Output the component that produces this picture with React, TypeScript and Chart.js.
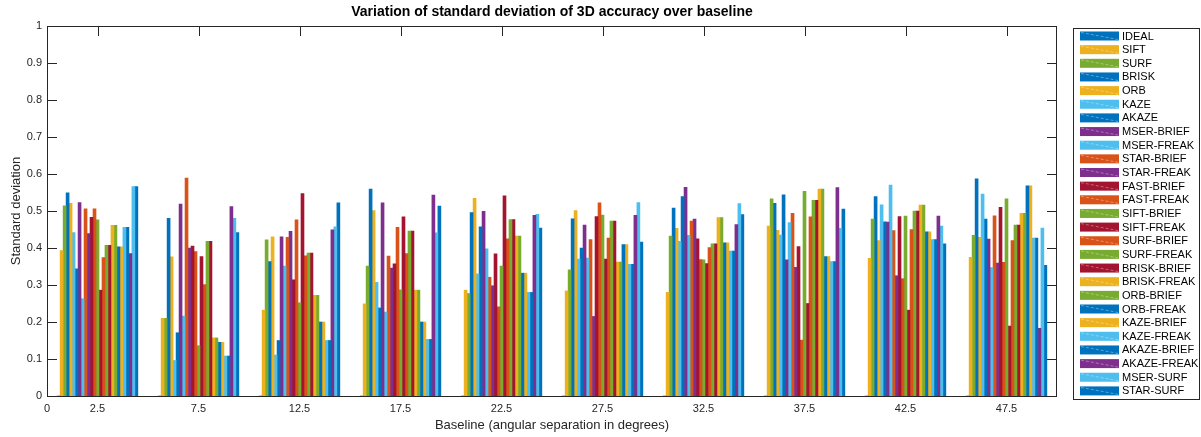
import { useEffect, useRef } from "react";
import { Chart, registerables } from "chart.js";

Chart.register(...registerables);

// Group positions on the baseline axis (degrees) and axis tick positions
const BASELINES = [2.5, 7.5, 12.5, 17.5, 22.5, 27.5, 32.5, 37.5, 42.5, 47.5];
const X_TICKS = [0, 2.5, 7.5, 12.5, 17.5, 22.5, 27.5, 32.5, 37.5, 42.5, 47.5];
const Y_TICKS = [0, 0.1, 0.2, 0.3, 0.4, 0.5, 0.6, 0.7, 0.8, 0.9, 1];

// Standard deviation per method, one value per baseline group
const IDEAL = [0, 0, 0, 0, 0, 0, 0, 0, 0, 0];
const SIFT = [0.393, 0.21, 0.232, 0.249, 0.286, 0.284, 0.28, 0.459, 0.372, 0.375];
const SURF = [0.514, 0.21, 0.422, 0.351, 0.277, 0.341, 0.432, 0.533, 0.478, 0.434];
const BRISK = [0.549, 0.48, 0.363, 0.559, 0.496, 0.479, 0.508, 0.521, 0.539, 0.587];
const ORB = [0.521, 0.376, 0.43, 0.501, 0.534, 0.501, 0.453, 0.448, 0.42, 0.429];
const KAZE = [0.442, 0.096, 0.111, 0.307, 0.33, 0.37, 0.418, 0.435, 0.517, 0.546];
const AKAZE = [0.344, 0.171, 0.15, 0.238, 0.457, 0.4, 0.539, 0.544, 0.471, 0.478];
const MSER_BRIEF = [0.523, 0.519, 0.43, 0.522, 0.499, 0.462, 0.564, 0.368, 0.47, 0.424];
const MSER_FREAK = [0.263, 0.216, 0.351, 0.227, 0.398, 0.373, 0.434, 0.469, 0.57, 0.347];
const STAR_BRIEF = [0.506, 0.589, 0.429, 0.378, 0.321, 0.423, 0.473, 0.494, 0.447, 0.487];
const STAR_FREAK = [0.439, 0.4, 0.445, 0.346, 0.298, 0.215, 0.478, 0.348, 0.325, 0.359];
const FAST_BRIEF = [0.483, 0.405, 0.314, 0.357, 0.384, 0.485, 0.425, 0.404, 0.485, 0.51];
const FAST_FREAK = [0.506, 0.39, 0.476, 0.456, 0.241, 0.522, 0.369, 0.151, 0.317, 0.361];
const SIFT_BRIEF = [0.476, 0.136, 0.252, 0.287, 0.351, 0.489, 0.368, 0.553, 0.486, 0.533];
const SIFT_FREAK = [0.286, 0.377, 0.547, 0.484, 0.541, 0.37, 0.358, 0.25, 0.232, 0.189];
const SURF_BRIEF = [0.374, 0.301, 0.379, 0.385, 0.425, 0.427, 0.401, 0.484, 0.45, 0.42];
const SURF_FREAK = [0.407, 0.418, 0.386, 0.446, 0.477, 0.473, 0.411, 0.529, 0.5, 0.462];
const BRISK_BRIEF = [0.407, 0.418, 0.386, 0.446, 0.477, 0.473, 0.411, 0.529, 0.5, 0.462];
const BRISK_FREAK = [0.461, 0.157, 0.272, 0.286, 0.432, 0.362, 0.482, 0.559, 0.516, 0.494];
const ORB_BRIEF = [0.461, 0.157, 0.272, 0.286, 0.432, 0.362, 0.482, 0.559, 0.516, 0.494];
const ORB_FREAK = [0.403, 0.145, 0.2, 0.2, 0.332, 0.409, 0.414, 0.377, 0.444, 0.568];
const KAZE_BRIEF = [0.403, 0.145, 0.2, 0.2, 0.332, 0.409, 0.414, 0.377, 0.444, 0.568];
const KAZE_FREAK = [0.456, 0.108, 0.15, 0.153, 0.28, 0.356, 0.392, 0.363, 0.423, 0.427];
const AKAZE_BRIEF = [0.456, 0.108, 0.15, 0.153, 0.28, 0.356, 0.392, 0.363, 0.423, 0.427];
const AKAZE_FREAK = [0.385, 0.512, 0.449, 0.543, 0.488, 0.488, 0.463, 0.563, 0.486, 0.183];
const MSER_SURF = [0.566, 0.48, 0.457, 0.441, 0.491, 0.523, 0.52, 0.453, 0.459, 0.454];
const STAR_SURF = [0.566, 0.442, 0.522, 0.513, 0.454, 0.416, 0.49, 0.505, 0.411, 0.353];

// Palette
const BLUE = "#0072BD";
const ORANGE = "#D95319";
const YELLOW = "#EDB120";
const PURPLE = "#7E2F8E";
const GREEN = "#77AC30";
const LIGHT_BLUE = "#4DBEEE";
const DARK_RED = "#A2142F";

const SERIES: [string, number[], string][] = [
  ["IDEAL", IDEAL, BLUE],
  ["SIFT", SIFT, YELLOW],
  ["SURF", SURF, GREEN],
  ["BRISK", BRISK, BLUE],
  ["ORB", ORB, YELLOW],
  ["KAZE", KAZE, LIGHT_BLUE],
  ["AKAZE", AKAZE, BLUE],
  ["MSER-BRIEF", MSER_BRIEF, PURPLE],
  ["MSER-FREAK", MSER_FREAK, LIGHT_BLUE],
  ["STAR-BRIEF", STAR_BRIEF, ORANGE],
  ["STAR-FREAK", STAR_FREAK, PURPLE],
  ["FAST-BRIEF", FAST_BRIEF, DARK_RED],
  ["FAST-FREAK", FAST_FREAK, ORANGE],
  ["SIFT-BRIEF", SIFT_BRIEF, GREEN],
  ["SIFT-FREAK", SIFT_FREAK, DARK_RED],
  ["SURF-BRIEF", SURF_BRIEF, ORANGE],
  ["SURF-FREAK", SURF_FREAK, GREEN],
  ["BRISK-BRIEF", BRISK_BRIEF, DARK_RED],
  ["BRISK-FREAK", BRISK_FREAK, YELLOW],
  ["ORB-BRIEF", ORB_BRIEF, GREEN],
  ["ORB-FREAK", ORB_FREAK, BLUE],
  ["KAZE-BRIEF", KAZE_BRIEF, YELLOW],
  ["KAZE-FREAK", KAZE_FREAK, LIGHT_BLUE],
  ["AKAZE-BRIEF", AKAZE_BRIEF, BLUE],
  ["AKAZE-FREAK", AKAZE_FREAK, PURPLE],
  ["MSER-SURF", MSER_SURF, LIGHT_BLUE],
  ["STAR-SURF", STAR_SURF, BLUE],
];

const TITLE = "Variation of standard deviation of 3D accuracy over baseline";
const X_TITLE = "Baseline (angular separation in degrees)";
const Y_TITLE = "Standard deviation";

const FONT = "'Liberation Sans', Arial, Helvetica, sans-serif";
const AXIS_COLOR = "#262626";

// Box, inward tick marks, titles and the legend panel
const matlabFrame = {
  id: "matlabFrame",
  beforeDatasetsDraw(chart: any) {
    const { ctx, chartArea: a } = chart;
    const x = chart.scales.x;
    const y = chart.scales.y;
    const len = 10;
    ctx.save();
    ctx.strokeStyle = AXIS_COLOR;
    ctx.lineWidth = 1;
    ctx.beginPath();
    for (const v of X_TICKS) {
      const px = Math.round(x.getPixelForValue(v)) + 0.5;
      ctx.moveTo(px, a.bottom);
      ctx.lineTo(px, a.bottom - len);
      ctx.moveTo(px, a.top);
      ctx.lineTo(px, a.top + len);
    }
    for (const v of Y_TICKS) {
      const py = Math.round(y.getPixelForValue(v)) + 0.5;
      ctx.moveTo(a.left, py);
      ctx.lineTo(a.left + len, py);
      ctx.moveTo(a.right, py);
      ctx.lineTo(a.right - len, py);
    }
    ctx.stroke();
    ctx.restore();
  },
  afterDatasetsDraw(chart: any) {
    const { ctx, chartArea: a } = chart;
    ctx.save();
    ctx.strokeStyle = AXIS_COLOR;
    ctx.lineWidth = 1;
    ctx.strokeRect(
      Math.round(a.left) + 0.5,
      Math.round(a.top) + 0.5,
      Math.round(a.right - a.left) - 1,
      Math.round(a.bottom - a.top)
    );
    ctx.restore();
  },
  afterDraw(chart: any) {
    const { ctx, chartArea: a } = chart;
    const cx = (a.left + a.right) / 2;
    ctx.save();
    ctx.fillStyle = "#000";
    ctx.textAlign = "center";
    ctx.textBaseline = "middle";
    ctx.font = `bold 14px ${FONT}`;
    ctx.fillText(TITLE, cx, 12);

    ctx.fillStyle = AXIS_COLOR;
    ctx.font = `13px ${FONT}`;
    ctx.fillText(X_TITLE, cx, 425);

    ctx.save();
    ctx.translate(16, (a.top + a.bottom) / 2);
    ctx.rotate(-Math.PI / 2);
    ctx.fillText(Y_TITLE, 0, 0);
    ctx.restore();

    // legend panel
    const lx = 1073;
    const ly = 28;
    const lw = 126;
    const lh = 371;
    ctx.fillStyle = "#fff";
    ctx.fillRect(lx, ly, lw, lh);
    ctx.strokeStyle = "#262626";
    ctx.lineWidth = 1;
    ctx.strokeRect(lx + 0.5, ly + 0.5, lw, lh);

    const step = 13.65;
    ctx.textAlign = "left";
    ctx.font = `11px ${FONT}`;
    chart.data.datasets.forEach((ds: any, i: number) => {
      const yc = 36 + i * step;
      const sx = 1080;
      const sw = 39;
      const sh = 9;
      ctx.fillStyle = ds.backgroundColor;
      ctx.fillRect(sx, yc - sh / 2, sw, sh);
      ctx.save();
      ctx.strokeStyle = "rgba(255,255,255,0.35)";
      ctx.setLineDash([3, 2]);
      ctx.beginPath();
      ctx.moveTo(sx + 1, yc - sh / 2 + 1);
      ctx.lineTo(sx + sw - 1, yc + sh / 2 - 1);
      ctx.stroke();
      ctx.restore();
      ctx.fillStyle = "#000";
      ctx.fillText(ds.label, 1122, yc + 0.5);
    });
    ctx.restore();
  },
};

export default function App() {
  const canvasRef = useRef<HTMLCanvasElement | null>(null);

  useEffect(() => {
    document.body.style.margin = "0";
    const canvas = canvasRef.current;
    if (!canvas) return;

    const datasets = SERIES.map(([label, values, color]) => ({
      label,
      data: BASELINES.map((b, i) => ({ x: b, y: values[i] })),
      backgroundColor: color,
      borderWidth: 0,
      barThickness: 2.99,
    }));

    const chart = new Chart(canvas, {
      type: "bar",
      data: { datasets },
      plugins: [matlabFrame],
      options: {
        animation: false,
        responsive: false,
        maintainAspectRatio: false,
        layout: { padding: { left: 0, top: 26, right: 144, bottom: 0 } },
        plugins: {
          legend: { display: false },
          title: { display: false },
          tooltip: { enabled: false },
        },
        scales: {
          x: {
            type: "linear",
            min: 0,
            max: 50,
            offset: false,
            grid: { display: false, drawTicks: false, offset: false },
            border: { display: false },
            afterBuildTicks: (scale: any) => {
              scale.ticks = X_TICKS.map((v) => ({ value: v }));
            },
            afterFit: (scale: any) => {
              scale.height = 41;
            },
            ticks: {
              autoSkip: false,
              maxRotation: 0,
              padding: 6,
              color: AXIS_COLOR,
              font: { family: FONT, size: 11 },
              callback: (v: any) => String(v),
            },
          },
          y: {
            type: "linear",
            min: 0,
            max: 1,
            grid: { display: false, drawTicks: false },
            border: { display: false },
            afterBuildTicks: (scale: any) => {
              scale.ticks = Y_TICKS.map((v) => ({ value: v }));
            },
            afterFit: (scale: any) => {
              scale.width = 47;
            },
            ticks: {
              padding: 5,
              color: AXIS_COLOR,
              font: { family: FONT, size: 11 },
              callback: (v: any) => String(Number(Number(v).toFixed(1))),
            },
          },
        },
      } as any,
    });

    return () => chart.destroy();
  }, []);

  return (
    <div style={{ position: "absolute", left: 0, top: 0, width: 1201, height: 437 }}>
      <canvas ref={canvasRef} width={1201} height={437} />
    </div>
  );
}
